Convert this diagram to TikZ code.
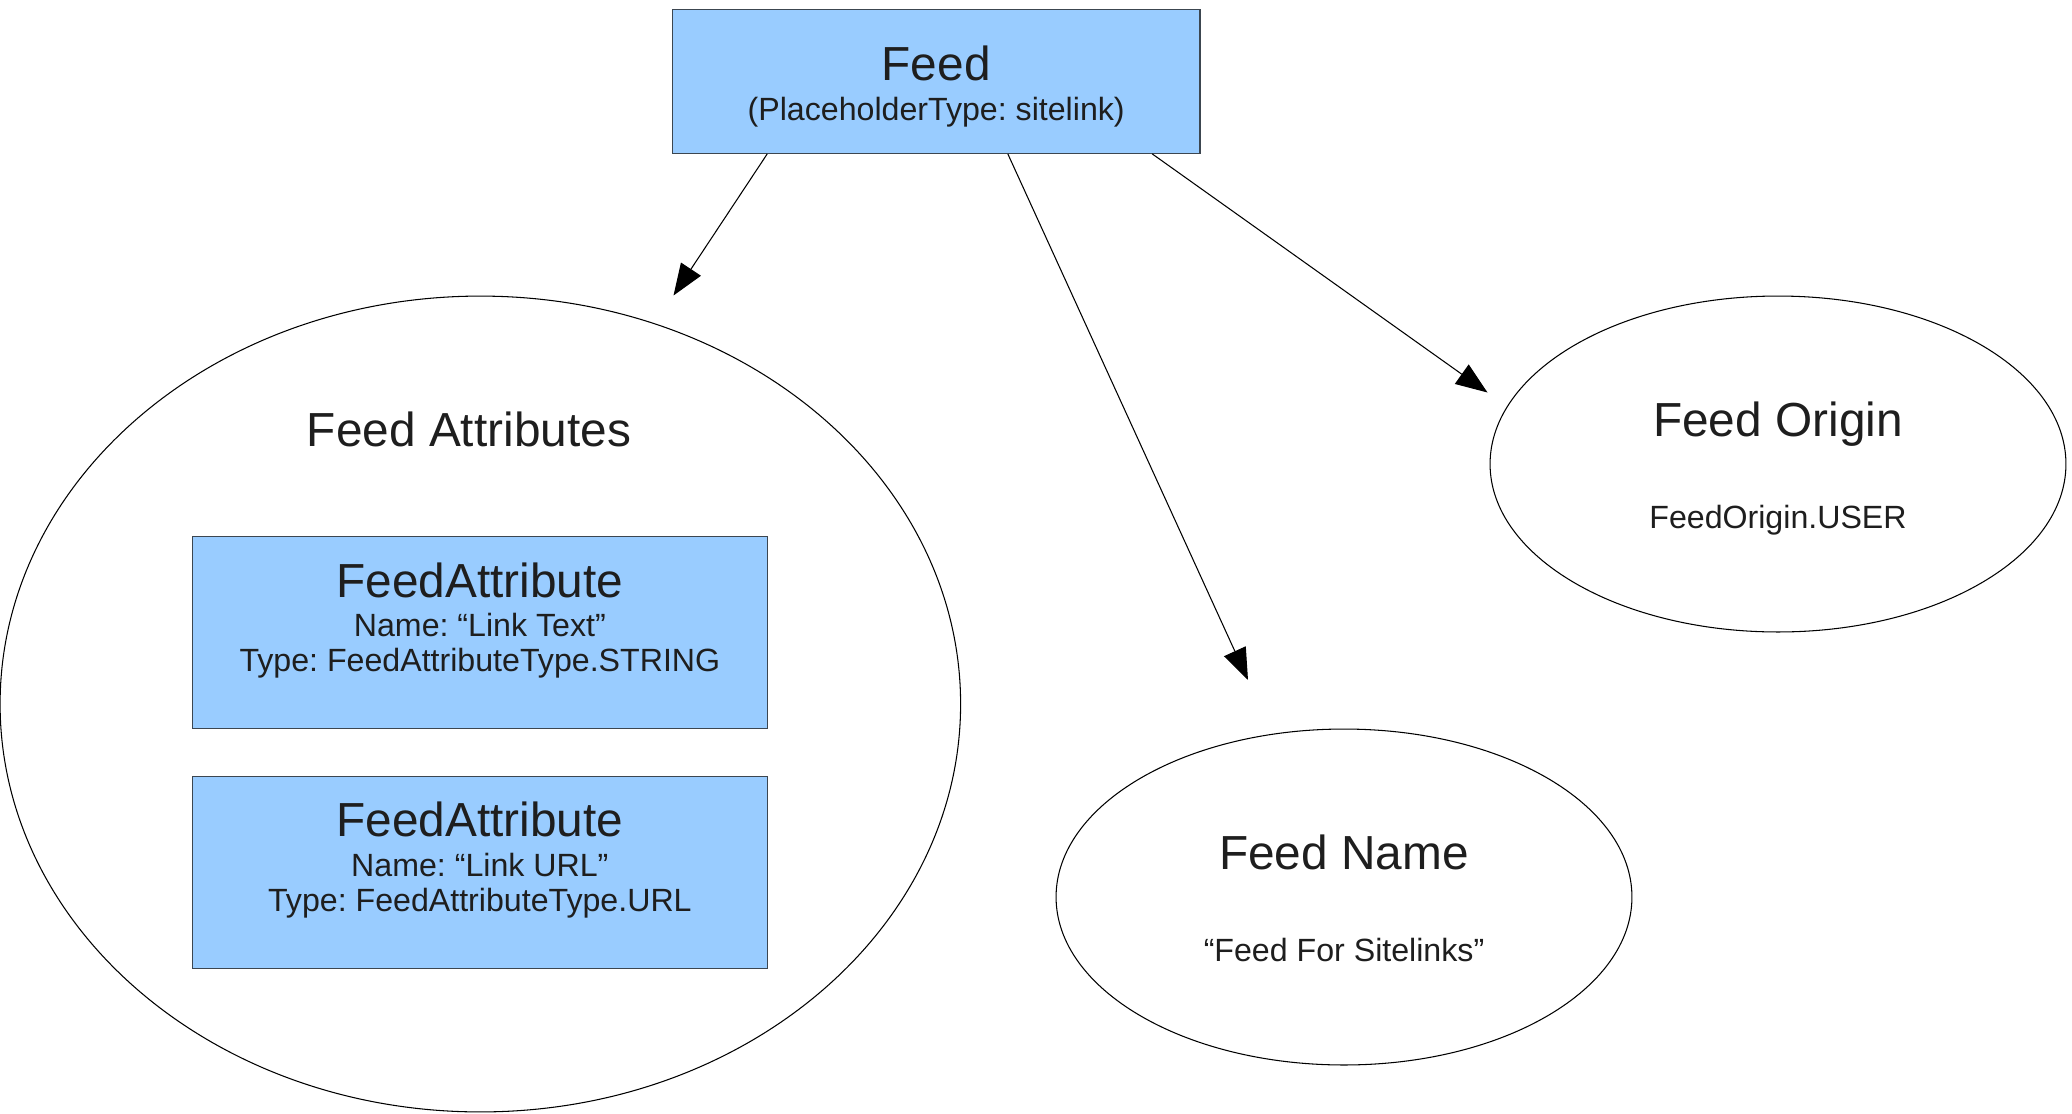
\documentclass[tikz,border=0pt]{standalone}
\usepackage{fontspec}
\setmainfont{Liberation Sans}
\usetikzlibrary{arrows.meta, positioning, shapes.geometric}
\frenchspacing
\definecolor{boxblue}{HTML}{99CCFF}
\definecolor{boxline}{HTML}{3C4650}
\definecolor{inktext}{HTML}{1E1E1E}
\tikzset{
    bigtext/.style={font=\fontsize{27.2}{32}\selectfont, text=inktext, anchor=base, inner sep=0pt},
    smalltext/.style={font=\fontsize{18.3}{22}\selectfont, text=inktext, anchor=base, inner sep=0pt},
    bluebox/.style={rectangle, draw=boxline, fill=boxblue, line width=0.6pt, inner sep=0pt},
    oval/.style={ellipse, draw=black, line width=0.6pt, inner sep=0pt, minimum width=11.52cm, minimum height=6.72cm},
    link/.style={-{Triangle[length=18pt, width=13.5pt]}, line width=0.6pt},
}

\begin{document}
\begin{tikzpicture}[x=0.02cm, y=-0.02cm]
    \useasboundingbox (0,0) rectangle (2072,1113);

    % the feed itself
    \node[bluebox, minimum width=10.554cm, minimum height=2.886cm] (feed) at (936.2,81.2) {};
    \node[bigtext] (feedT) at (936.2,80.7) {Feed};
    \node[smalltext] (feedS) at (936.2,120.5) {(PlaceholderType: sitelink)};

    % attributes
    \node[oval, minimum width=19.214cm, minimum height=16.32cm] (attrs) at (480.35,704) {};
    \node[bigtext] (attrsT) at (469,446) {Feed Attributes};

    \node[bluebox, minimum width=11.514cm, minimum height=3.846cm] (attr1) at (479.85,632.8) {};
    \node[bigtext] (attr1T) at (479.85,597.3) {FeedAttribute};
    \node[smalltext] (attr1N) at (479.85,636) {Name: “Link Text”};
    \node[smalltext] (attr1Y) at (479.85,671.7) {Type: FeedAttributeType.STRING};

    \node[bluebox, minimum width=11.514cm, minimum height=3.846cm] (attr2) at (479.85,872.8) {};
    \node[bigtext] (attr2T) at (479.85,836) {FeedAttribute};
    \node[smalltext] (attr2N) at (479.85,876.7) {Name: “Link URL”};
    \node[smalltext] (attr2Y) at (479.85,911.7) {Type: FeedAttributeType.URL};

    % name and origin
    \node[oval] (fname) at (1344,897) {};
    \node[bigtext] (fnameT) at (1344,869) {Feed Name};
    \node[smalltext] (fnameV) at (1344,961.7) {“Feed For Sitelinks”};

    \node[oval] (origin) at (1778,464) {};
    \node[bigtext] (originT) at (1778,436) {Feed Origin};
    \node[smalltext] (originV) at (1778,528.7) {FeedOrigin.USER};

    \coordinate (tipA) at (673.5,295.5);
    \coordinate (tipB) at (1248,680);
    \coordinate (tipC) at (1487.5,392.5);

    \draw[link] ([xshift=1.908cm]feed.south west) -- (tipA);
    \draw[link] ([xshift=6.72cm]feed.south west) -- (tipB);
    \draw[link] ([xshift=9.608cm]feed.south west) -- (tipC);
\end{tikzpicture}
\end{document}
